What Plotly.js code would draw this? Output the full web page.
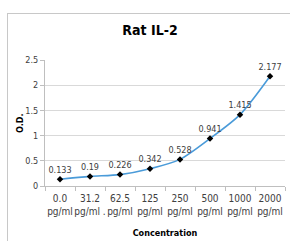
<!DOCTYPE html>
<html><head><meta charset="utf-8">
<script src="https://cdn.plot.ly/plotly-3.0.1.min.js"></script>
<style>
html,body{margin:0;padding:0;background:#fff;overflow:hidden;}
#frame{position:absolute;left:7px;top:13px;width:320px;height:260px;border:1px solid #c8c8c8;box-sizing:border-box;}
#chart{position:absolute;left:0;top:0;width:290px;height:241px;}
</style></head>
<body>
<div id="frame"></div>
<div id="chart"></div>
<script>
const categories = ["0.0<br>pg/ml","31.2<br>pg/ml .","62.5<br>pg/ml","125<br>pg/ml","250<br>pg/ml","500<br>pg/ml","1000<br>pg/ml","2000<br>pg/ml"];
const odValues = [0.133, 0.19, 0.226, 0.342, 0.528, 0.941, 1.415, 2.177];
const valueLabels = ["0.133","0.19","0.226","0.342","0.528","0.941","1.415","2.177"];
const yTicks = [0, 0.5, 1, 1.5, 2, 2.5];
const yTickText = ["0","0.5","1","1.5","2","2.5"];

const FONT = '"Liberation Sans Narrow", "DejaVu Sans Condensed", sans-serif';

const trace = {
  x: categories,
  y: odValues,
  text: valueLabels,
  type: 'scatter',
  mode: 'lines+markers+text',
  textposition: 'top center',
  textfont: {family: FONT, size: 9, color: '#404040'},
  line: {color: '#4a9bd9', width: 1.6, shape: 'spline', smoothing: 0.8},
  marker: {symbol: 'diamond', size: 5, color: '#000'},
  cliponaxis: false,
  hoverinfo: 'none'
};

const layout = {
  width: 290, height: 241,
  margin: {l: 45, r: 5, t: 60, b: 55},
  paper_bgcolor: 'rgba(0,0,0,0)',
  plot_bgcolor: 'rgba(0,0,0,0)',
  showlegend: false,
  title: {text: '<b>Rat IL-2</b>', x: 150/290, xanchor: 'center', y: 1 - 30/241, yanchor: 'middle',
          font: {family: FONT, size: 14, color: '#000'}},
  xaxis: {
    type: 'category',
    range: [-0.5, 7.5],
    tickson: 'boundaries',
    tickangle: 0,
    ticklabelstandoff: 3,
    ticks: 'outside', ticklen: 4, tickcolor: '#bfbfbf',
    showline: true, linecolor: '#bfbfbf', linewidth: 1,
    showgrid: false, zeroline: false,
    tickfont: {family: FONT, size: 10, color: '#404040'},
    title: {text: '<b>Concentration</b>', font: {family: FONT, size: 9, color: '#000'}, standoff: 13}
  },
  yaxis: {
    range: [0, 2.5],
    tickvals: yTicks, ticktext: yTickText,
    ticks: 'outside', ticklen: 4, tickcolor: '#bfbfbf',
    showline: true, linecolor: '#bfbfbf', linewidth: 1,
    showgrid: true, gridcolor: '#d9d9d9', gridwidth: 1,
    zeroline: false,
    tickfont: {family: FONT, size: 9, color: '#404040'}
  },
  annotations: [{
    text: '<b>O.D.</b>', xref: 'paper', yref: 'paper',
    x: -25/240, y: 0.5, xanchor: 'center', yanchor: 'middle',
    textangle: -90, showarrow: false,
    font: {family: FONT, size: 9, color: '#000'}
  }]
};

Plotly.newPlot('chart', [trace], layout, {staticPlot: true, displayModeBar: false});
</script>
</body></html>
